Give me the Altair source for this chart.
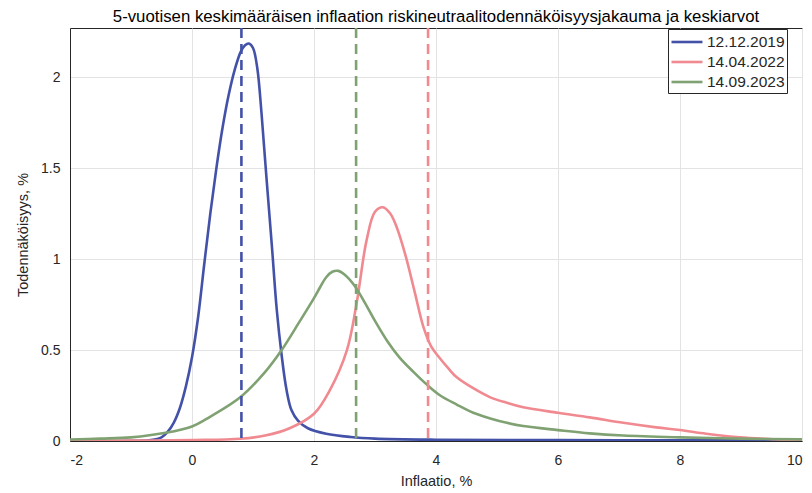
import altair as alt
import pandas as pd

series_names = ["12.12.2019", "14.04.2022", "14.09.2023"]
series_colors = ["#4352A8", "#F08A90", "#80A272"]

blue_x = [-2.0, -1.0, -0.67, -0.5, -0.4, -0.3, -0.2, -0.1, 0.0, 0.1, 0.2, 0.3, 0.4, 0.5, 0.6, 0.7, 0.8, 0.87, 0.93, 1.0, 1.07, 1.14, 1.22, 1.31, 1.39, 1.47, 1.55, 1.63, 1.74, 1.9, 2.2, 2.6, 3.0, 4.0, 6.0, 8.0, 10.0]
blue_y = [0.0, 0.001, 0.005, 0.02, 0.05, 0.1, 0.18, 0.3, 0.46, 0.68, 0.97, 1.25, 1.5, 1.72, 1.9, 2.04, 2.14, 2.175, 2.185, 2.16, 2.05, 1.8, 1.45, 1.07, 0.72, 0.47, 0.28, 0.17, 0.11, 0.07, 0.04, 0.022, 0.013, 0.007, 0.005, 0.004, 0.003]

red_x = [-2.0, -1.0, 0.0, 0.79, 1.2, 1.6, 2.0, 2.26, 2.54, 2.7, 2.86, 3.0, 3.13, 3.25, 3.35, 3.5, 3.65, 3.8, 3.92, 4.05, 4.2, 4.34, 4.61, 4.89, 5.16, 5.43, 6.0, 6.52, 7.07, 7.61, 8.0, 8.43, 8.98, 9.52, 10.0]
red_y = [0.0, 0.002, 0.005, 0.012, 0.03, 0.07, 0.15, 0.28, 0.5, 0.76, 1.1, 1.26, 1.285, 1.25, 1.18, 1.02, 0.82, 0.62, 0.52, 0.46, 0.4, 0.35, 0.29, 0.24, 0.21, 0.185, 0.155, 0.13, 0.1, 0.075, 0.06, 0.04, 0.02, 0.01, 0.003]

green_x = [-2.0, -1.5, -1.0, -0.43, 0.0, 0.23, 0.79, 1.2, 1.47, 1.77, 1.99, 2.1, 2.2, 2.3, 2.4, 2.5, 2.65, 2.8, 3.0, 3.2, 3.4, 3.63, 3.85, 4.07, 4.34, 4.61, 4.89, 5.16, 5.43, 6.0, 6.52, 7.07, 8.0, 9.0, 10.0]
green_y = [0.008, 0.013, 0.02, 0.045, 0.08, 0.12, 0.24, 0.38, 0.5, 0.66, 0.78, 0.845, 0.9, 0.93, 0.935, 0.915, 0.86, 0.78, 0.66, 0.55, 0.46, 0.38, 0.31, 0.25, 0.2, 0.155, 0.124, 0.1, 0.082, 0.06, 0.042, 0.03, 0.02, 0.013, 0.009]

mean_values = [0.81, 3.87, 2.69]

x_ticks = [-2, 0, 2, 4, 6, 8, 10]
y_ticks = [0, 0.5, 1, 1.5, 2]

rows = []
for name, xs, ys in zip(series_names, [blue_x, red_x, green_x], [blue_y, red_y, green_y]):
    for i, (a, b) in enumerate(zip(xs, ys)):
        rows.append({"sarja": name, "x": a, "y": b, "i": i})
df = pd.DataFrame(rows)
means = pd.DataFrame({"sarja": series_names, "mean": mean_values})

font = "Liberation Sans"
color_scale = alt.Scale(domain=series_names, range=series_colors)

lines = alt.Chart(df).mark_line(strokeWidth=2.6, interpolate="catmull-rom", clip=True).encode(
    x=alt.X("x:Q", scale=alt.Scale(domain=[-2, 10], nice=False),
            axis=alt.Axis(values=x_ticks, title="Inflaatio, %", labelExpr="'' + datum.value",
                          ticks=False, labelPadding=12, titlePadding=7)),
    y=alt.Y("y:Q", scale=alt.Scale(domain=[0, 2.27], nice=False),
            axis=alt.Axis(values=y_ticks, title="Todennäköisyys, %", labelExpr="'' + datum.value",
                          ticks=False, labelPadding=10, titlePadding=10)),
    color=alt.Color("sarja:N", scale=color_scale,
                    legend=alt.Legend(title=None, orient="none", legendX=598, legendY=1,
                                      strokeColor="#262626", fillColor="white",
                                      padding=2, symbolType="M-1,0H2.26", symbolStrokeWidth=2.6,
                                      symbolSize=361, labelFontSize=15.5, labelFont=font,
                                      labelColor="#262626", rowPadding=0, labelOffset=15)),
    order="i:Q",
)

rules = alt.Chart(means).mark_rule(strokeWidth=2.6, strokeDash=[10, 6]).encode(
    x=alt.X("mean:Q"),
    color=alt.Color("sarja:N", scale=color_scale),
)

chart = alt.layer(lines, rules).properties(
    width=732, height=413,
    autosize=alt.AutoSizeParams(type="none"),
    padding={"left": 62, "top": 20, "right": 2, "bottom": 50},
    title=alt.TitleParams("5-vuotisen keskimääräisen inflaation riskineutraalitodennäköisyysjakauma ja keskiarvot",
                          fontSize=16.8, font=font, fontWeight="normal", color="#000000",
                          anchor="middle", offset=1),
).configure_view(stroke="#262626", strokeWidth=1).configure_axis(
    labelFont=font, titleFont=font, labelFontSize=14, titleFontSize=14.5,
    titleFontWeight="normal", labelColor="#262626", titleColor="#262626",
    gridColor="#e3e3e3", gridWidth=1, domainColor="#262626",
)

chart.save("out.html", embed_options={"renderer": "svg", "actions": False})
